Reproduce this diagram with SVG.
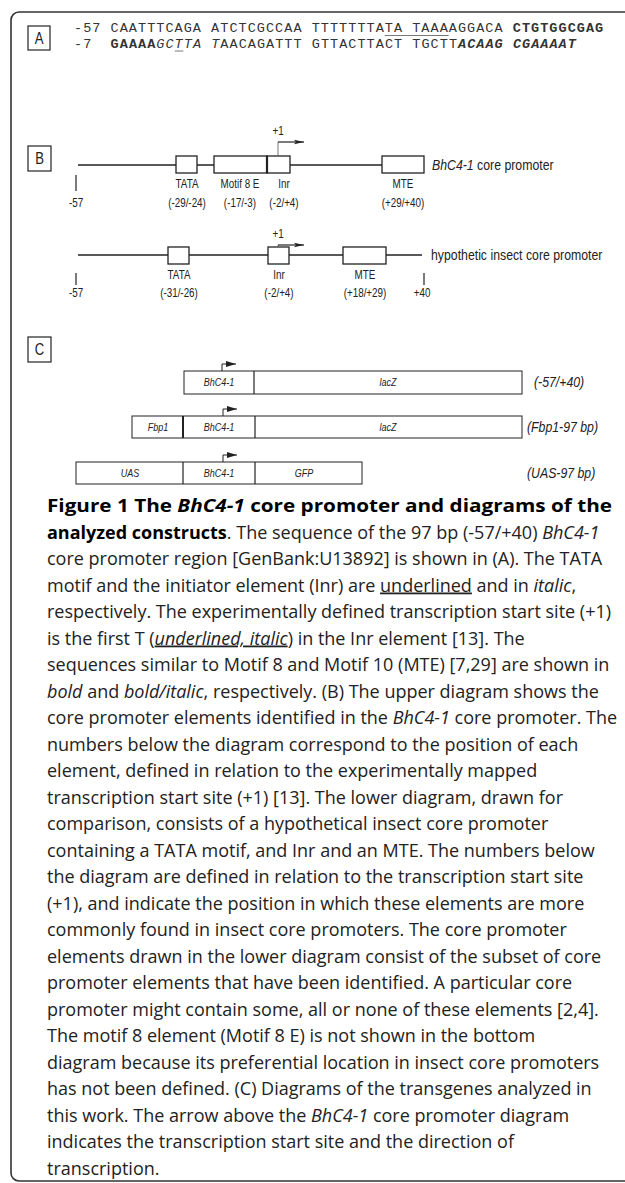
<svg xmlns="http://www.w3.org/2000/svg" width="625" height="1183" viewBox="0 0 625 1183">
<style>
.frame{fill:none;stroke:#333;stroke-width:1.6}
.lbox{fill:#fff;stroke:#222;stroke-width:1.2}
.lbl{font-family:'Liberation Sans',Arial,sans-serif;font-size:16px;fill:#222;text-anchor:middle}
.seq{font-family:'Liberation Mono','Courier New',monospace;font-size:13.5px;letter-spacing:1.04px;fill:#333}
.b{font-weight:bold}
.i{font-style:italic}
.ln{stroke:#222;stroke-width:1.4;fill:none}
.tick{stroke:#222;stroke-width:1.2}
.el{fill:#fff;stroke:#222;stroke-width:1.3}
.sm{font-family:'Liberation Sans',Arial,sans-serif;font-size:12px;fill:#222;text-anchor:middle}
.nm{font-family:'Liberation Sans',Arial,sans-serif;font-size:15px;fill:#222}
.con{fill:#fff;stroke:#222;stroke-width:1}
.cin{font-family:'Liberation Sans',Arial,sans-serif;font-size:11px;font-style:italic;fill:#222;text-anchor:middle}
.cnm{font-family:'Liberation Sans',Arial,sans-serif;font-size:15px;font-style:italic;fill:#222}
.cap{font-family:'Open Sans','Noto Sans',sans-serif;font-size:18px;fill:#222}
.thin{stroke:#555;stroke-width:0.8}
</style>
<defs>
<marker id="ah" viewBox="0 0 10 6" refX="10" refY="3" markerWidth="10" markerHeight="6" markerUnits="userSpaceOnUse" orient="auto">
<path d="M0,0.8 L10,3 L0,5.2 L2,3 Z" fill="#222"/>
</marker>
<marker id="fl" viewBox="0 0 10 6" refX="10" refY="3" markerWidth="10" markerHeight="6" markerUnits="userSpaceOnUse" orient="auto">
<path d="M0,0 L10,3 L0,6 Z" fill="#222"/>
</marker>
</defs>

<path class="frame" d="M625 12 H19 A8 8 0 0 0 11 20 V1173 A8 8 0 0 0 19 1181 H625"/>

<g id="panelA">
<rect class="lbox" x="28" y="26" width="22" height="24"/>
<text class="lbl" transform="translate(39 44) scale(0.82 1)">A</text>
<text class="seq" x="74" y="32">-57 CAATTTCAGA ATCTCGCCAA TTTTTTTATA TAAAAGGACA <tspan class="b">CTGTGGCGAG</tspan></text>
<text class="seq" y="47.5"><tspan x="74">-7</tspan><tspan x="110.6" class="b">GAAAA</tspan><tspan class="i">GCTTA</tspan> <tspan class="i">T</tspan>AACAGATTT GTTACTTACT TGCTT<tspan class="b i">ACAAG</tspan> <tspan class="b i">CGAAAAT</tspan></text>
<line class="thin" x1="384.8" y1="35.5" x2="448.7" y2="35.5"/>
<line class="thin" x1="174.8" y1="51" x2="183.3" y2="51"/>
</g>

<g id="panelB">
<rect class="lbox" x="28" y="146" width="23" height="25"/>
<text class="lbl" transform="translate(39.5 164) scale(0.82 1)">B</text>
</g>

<g id="promoter1">
<line class="ln" x1="78" y1="165" x2="382" y2="165"/>
<line class="tick" x1="76" y1="175" x2="76" y2="191"/>
<rect id="tata1" class="el" x="176" y="156" width="21" height="17"/>
<rect id="motif8" class="el" x="214" y="156" width="53" height="17"/>
<rect id="inr1" class="el" x="267" y="156" width="23" height="17"/>
<line x1="267" y1="156" x2="267" y2="173" stroke="#222" stroke-width="2.2"/>
<rect id="mte1" class="el" x="382" y="156" width="42" height="17"/>
<text class="sm" transform="translate(76 207) scale(0.82 1)">-57</text>
<text class="sm" transform="translate(187 188) scale(0.82 1)">TATA</text>
<text class="sm" transform="translate(187 207) scale(0.82 1)">(-29/-24)</text>
<text class="sm" transform="translate(240 188) scale(0.82 1)">Motif 8 E</text>
<text class="sm" transform="translate(240 207) scale(0.82 1)">(-17/-3)</text>
<text class="sm" transform="translate(284 188) scale(0.82 1)">Inr</text>
<text class="sm" transform="translate(284 207) scale(0.82 1)">(-2/+4)</text>
<text class="sm" transform="translate(403 188) scale(0.82 1)">MTE</text>
<text class="sm" transform="translate(403 207) scale(0.82 1)">(+29/+40)</text>
<text class="sm" transform="translate(278 135) scale(0.82 1)">+1</text>
<text class="nm" transform="translate(432 170) scale(0.82 1)"><tspan font-style="italic">BhC4-1</tspan> core promoter</text>
</g>

<g id="promoter2">
<line class="ln" x1="78" y1="255" x2="422" y2="255"/>
<line class="tick" x1="76" y1="273" x2="76" y2="285"/>
<line class="tick" x1="424" y1="273" x2="424" y2="285"/>
<rect id="tata2" class="el" x="168" y="247" width="21" height="17"/>
<rect id="inr2" class="el" x="268" y="247" width="21" height="17"/>
<rect id="mte2" class="el" x="343" y="247" width="43" height="17"/>
<text class="sm" transform="translate(76 297) scale(0.82 1)">-57</text>
<text class="sm" transform="translate(422 297) scale(0.82 1)">+40</text>
<text class="sm" transform="translate(179 279) scale(0.82 1)">TATA</text>
<text class="sm" transform="translate(179 297) scale(0.82 1)">(-31/-26)</text>
<text class="sm" transform="translate(279 279) scale(0.82 1)">Inr</text>
<text class="sm" transform="translate(279 297) scale(0.82 1)">(-2/+4)</text>
<text class="sm" transform="translate(365 279) scale(0.82 1)">MTE</text>
<text class="sm" transform="translate(365 297) scale(0.82 1)">(+18/+29)</text>
<text class="sm" transform="translate(278 238) scale(0.82 1)">+1</text>
<text class="nm" transform="translate(431 260) scale(0.82 1)">hypothetic insect core promoter</text>
</g>

<g id="panelC">
<rect class="lbox" x="28" y="337" width="23" height="25"/>
<text class="lbl" transform="translate(39.5 355) scale(0.82 1)">C</text>
</g>

<g id="construct1">
<rect class="con" x="184" y="371" width="338" height="23"/>
<line class="tick" x1="254" y1="371" x2="254" y2="394"/>
<text class="cin" transform="translate(219 386) scale(0.82 1)">BhC4-1</text>
<text class="cin" transform="translate(388 386) scale(0.82 1)">lacZ</text>
<text class="cnm" transform="translate(534 387) scale(0.82 1)">(-57/+40)</text>
</g>

<g id="construct2">
<rect class="con" x="132" y="416" width="390" height="22"/>
<line x1="183" y1="416" x2="183" y2="438" stroke="#222" stroke-width="2"/>
<line class="tick" x1="255" y1="416" x2="255" y2="438"/>
<text class="cin" transform="translate(158 431) scale(0.82 1)">Fbp1</text>
<text class="cin" transform="translate(219 431) scale(0.82 1)">BhC4-1</text>
<text class="cin" transform="translate(388 431) scale(0.82 1)">lacZ</text>
<text class="cnm" transform="translate(527 432) scale(0.82 1)">(Fbp1-97 bp)</text>
</g>

<g id="construct3">
<rect class="con" x="76" y="462" width="286" height="22"/>
<line class="tick" x1="183" y1="462" x2="183" y2="484"/>
<line class="tick" x1="255" y1="462" x2="255" y2="484"/>
<text class="cin" transform="translate(130 477) scale(0.82 1)">UAS</text>
<text class="cin" transform="translate(219 477) scale(0.82 1)">BhC4-1</text>
<text class="cin" transform="translate(304 477) scale(0.82 1)">GFP</text>
<text class="cnm" transform="translate(527 478) scale(0.82 1)">(UAS-97 bp)</text>
</g>

<g id="connectors">
<polyline class="thin" points="278,156 278,142" fill="none"/>
<line x1="278" y1="142" x2="304" y2="142" stroke="#222" stroke-width="1.2" marker-end="url(#ah)"/>
<polyline class="thin" points="278,247 278,245" fill="none"/>
<line x1="278" y1="245" x2="304" y2="245" stroke="#222" stroke-width="1.2" marker-end="url(#ah)"/>
<polyline points="222,371 222,364 236,364" fill="none" stroke="#222" stroke-width="1" marker-end="url(#fl)"/>
<polyline points="223,416 223,409 237,409" fill="none" stroke="#222" stroke-width="1" marker-end="url(#fl)"/>
<polyline points="223,462 223,455 237,455" fill="none" stroke="#222" stroke-width="1" marker-end="url(#fl)"/>
</g>

<g id="caption" class="cap">
<text x="47" y="512" textLength="565" lengthAdjust="spacingAndGlyphs"><tspan class="b" fill="#000">Figure 1 The </tspan><tspan class="b i" fill="#000">BhC4-1</tspan><tspan class="b" fill="#000"> core promoter and diagrams of the</tspan></text>
<text x="47" y="538.5"><tspan class="b" fill="#000">analyzed constructs</tspan>. The sequence of the 97 bp (-57/+40) <tspan class="i">BhC4-1</tspan></text>
<text x="47" y="565">core promoter region [GenBank:U13892] is shown in (A). The TATA</text>
<text x="47" y="591.5">motif and the initiator element (Inr) are <tspan text-decoration="underline">underlined</tspan> and in <tspan class="i">italic</tspan>,</text>
<text x="47" y="618">respectively. The experimentally defined transcription start site (+1)</text>
<text x="47" y="644.5">is the first T (<tspan class="i" text-decoration="underline">underlined, italic</tspan>) in the Inr element [13]. The</text>
<text x="47" y="671">sequences similar to Motif 8 and Motif 10 (MTE) [7,29] are shown in</text>
<text x="47" y="697.5"><tspan class="i">bold</tspan> and <tspan class="i">bold/italic</tspan>, respectively. (B) The upper diagram shows the</text>
<text x="47" y="724">core promoter elements identified in the <tspan class="i">BhC4-1</tspan> core promoter. The</text>
<text x="47" y="750.5">numbers below the diagram correspond to the position of each</text>
<text x="47" y="777">element, defined in relation to the experimentally mapped</text>
<text x="47" y="803.5">transcription start site (+1) [13]. The lower diagram, drawn for</text>
<text x="47" y="830">comparison, consists of a hypothetical insect core promoter</text>
<text x="47" y="856.5">containing a TATA motif, and Inr and an MTE. The numbers below</text>
<text x="47" y="883">the diagram are defined in relation to the transcription start site</text>
<text x="47" y="909.5">(+1), and indicate the position in which these elements are more</text>
<text x="47" y="936">commonly found in insect core promoters. The core promoter</text>
<text x="47" y="962.5">elements drawn in the lower diagram consist of the subset of core</text>
<text x="47" y="989">promoter elements that have been identified. A particular core</text>
<text x="47" y="1015.5">promoter might contain some, all or none of these elements [2,4].</text>
<text x="47" y="1042">The motif 8 element (Motif 8 E) is not shown in the bottom</text>
<text x="47" y="1068.5">diagram because its preferential location in insect core promoters</text>
<text x="47" y="1095">has not been defined. (C) Diagrams of the transgenes analyzed in</text>
<text x="47" y="1121.5">this work. The arrow above the <tspan class="i">BhC4-1</tspan> core promoter diagram</text>
<text x="47" y="1148">indicates the transcription start site and the direction of</text>
<text x="47" y="1174.5">transcription.</text>
</g>
</svg>
